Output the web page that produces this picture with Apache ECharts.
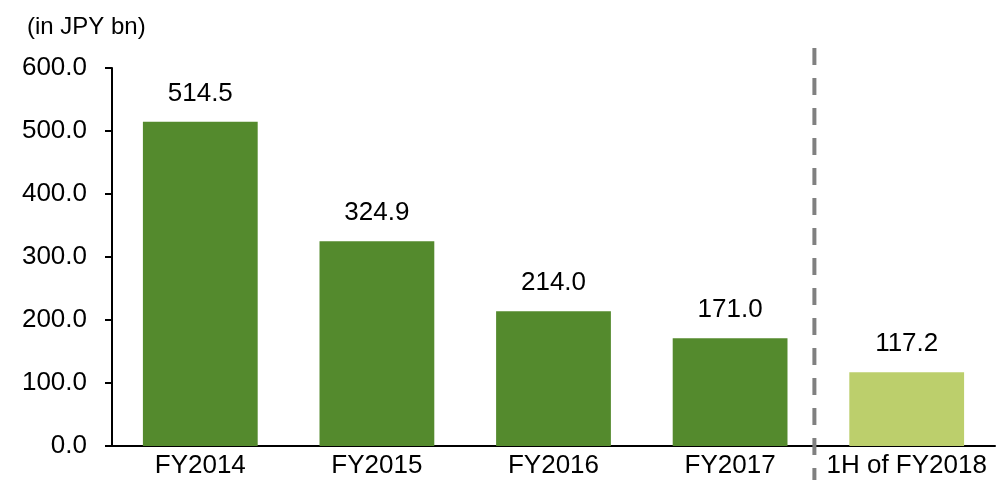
<!DOCTYPE html>
<html>
<head>
<meta charset="utf-8">
<script src="https://cdn.jsdelivr.net/npm/echarts@6/dist/echarts.min.js"></script>
<style>
  html, body { margin: 0; padding: 0; background: #fff; }
  #chart { width: 998px; height: 480px; }
</style>
</head>
<body>
<div id="chart"></div>
<script>
const categories = ["FY2014", "FY2015", "FY2016", "FY2017", "1H of FY2018"];
const values = [514.5, 324.9, 214.0, 171.0, 117.2];
const barColors = ["#548A2D", "#548A2D", "#548A2D", "#548A2D", "#BCCF6C"];
const yTicks = [0, 100, 200, 300, 400, 500, 600];

const font = "Liberation Sans, Arial, sans-serif";
const chart = echarts.init(document.getElementById("chart"));

chart.setOption({
  animation: false,
  backgroundColor: "#fff",
  title: {
    text: "(in JPY bn)",
    left: 22,
    top: 10,
    textStyle: { fontFamily: font, fontSize: 24, fontWeight: "normal", color: "#000" }
  },
  grid: { left: 112, right: 3, top: 68, bottom: 34 },
  xAxis: {
    type: "category",
    data: categories,
    axisLine: { lineStyle: { color: "#000", width: 2 } },
    axisTick: { show: false },
    axisLabel: {
      fontFamily: font, fontSize: 26, color: "#000", margin: 7,
      interval: 0, hideOverlap: false
    }
  },
  yAxis: {
    type: "value",
    min: yTicks[0],
    max: yTicks[yTicks.length - 1],
    interval: 100,
    splitLine: { show: false },
    axisLine: { show: true, lineStyle: { color: "#000", width: 2 } },
    axisTick: { show: true, length: 7, lineStyle: { color: "#000", width: 2 } },
    axisLabel: {
      fontFamily: font, fontSize: 26, color: "#000", margin: 25,
      formatter: (v) => v.toFixed(1)
    }
  },
  series: [{
    type: "bar",
    barWidth: "65%",
    data: values.map((v, i) => ({ value: v, itemStyle: { color: barColors[i] } })),
    label: {
      show: true,
      position: "top",
      distance: 15,
      fontFamily: font,
      fontSize: 26,
      color: "#000",
      formatter: (p) => p.value.toFixed(1)
    }
  }]
});

// dashed divider between the full years and the half year
function drawDivider() {
  const a = chart.convertToPixel({ xAxisIndex: 0 }, categories[3]);
  const b = chart.convertToPixel({ xAxisIndex: 0 }, categories[4]);
  const x = (a + b) / 2 - 4;
  chart.setOption({
    graphic: [{
      type: "line",
      shape: { x1: x, y1: 48, x2: x, y2: 480 },
      style: { stroke: "#808080", lineWidth: 4, lineDash: [17, 13] },
      z: 10
    }]
  });
}
drawDivider();
</script>
</body>
</html>
